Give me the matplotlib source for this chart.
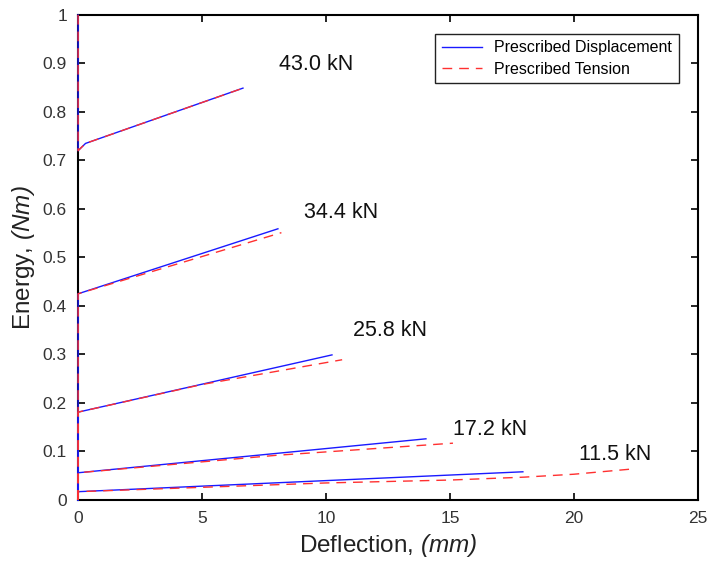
import matplotlib
matplotlib.use("Agg")
from matplotlib import pyplot as plt
from matplotlib.ticker import FuncFormatter

plt.rcParams['font.family'] = ['Liberation Sans', 'DejaVu Sans']
plt.rcParams['mathtext.fontset'] = 'custom'
plt.rcParams['mathtext.rm'] = 'Liberation Sans:italic'
plt.rcParams['mathtext.it'] = 'Liberation Sans:italic'

# Prescribed displacement (blue, solid)
disp_43_x = [0, 0, 0.3, 6.65]
disp_43_y = [1.0, 0.72, 0.735, 0.849]
disp_34_x = [0, 0, 8.06]
disp_34_y = [0.0, 0.425, 0.559]
disp_25_x = [0, 0, 10.24]
disp_25_y = [0.0, 0.181, 0.299]
disp_17_x = [0, 0, 14.03]
disp_17_y = [0.0, 0.056, 0.126]
disp_11_x = [0, 0, 17.94]
disp_11_y = [0.0, 0.017, 0.058]

# Prescribed tension (red, dashed)
tens_43_x = [0, 0, 0.3, 6.6]
tens_43_y = [1.0, 0.72, 0.735, 0.848]
tens_34_x = [0, 0, 8.2]
tens_34_y = [0.0, 0.425, 0.551]
tens_25_x = [0, 0, 5, 10.65]
tens_25_y = [0.0, 0.181, 0.238, 0.289]
tens_17_x = [0, 0, 8, 12, 15.12]
tens_17_y = [0.0, 0.056, 0.092, 0.106, 0.117]
tens_11_x = [0, 0, 10, 15, 18, 20, 22.4]
tens_11_y = [0.0, 0.017, 0.035, 0.041, 0.047, 0.053, 0.064]

load_labels = ["43.0 kN", "34.4 kN", "25.8 kN", "17.2 kN", "11.5 kN"]
label_x = [9.6, 10.6, 12.6, 16.6, 21.65]
label_y = [0.897, 0.592, 0.35, 0.146, 0.093]

fig = plt.figure(figsize=(7.1, 5.72), dpi=100)
ax = fig.add_axes([0.11, 0.126, 0.873, 0.848])

disp = [(disp_43_x, disp_43_y), (disp_34_x, disp_34_y), (disp_25_x, disp_25_y),
        (disp_17_x, disp_17_y), (disp_11_x, disp_11_y)]
tens = [(tens_43_x, tens_43_y), (tens_34_x, tens_34_y), (tens_25_x, tens_25_y),
        (tens_17_x, tens_17_y), (tens_11_x, tens_11_y)]

for i, (x, y) in enumerate(disp):
    ax.plot(x, y, color='#1a1aff', lw=1.0, zorder=3, clip_on=False,
            label='Prescribed Displacement' if i == 0 else None)
for i, (x, y) in enumerate(tens):
    ax.plot(x, y, color='#ff3030', lw=1.0, ls=(0, (7, 5)), zorder=3, clip_on=False,
            label='Prescribed Tension' if i == 0 else None)

for txt, tx, ty in zip(load_labels, label_x, label_y):
    ax.text(tx, ty, txt, fontsize=15.5, ha='center', va='center', color='#111111')

ax.set_xlim(0, 25)
ax.set_ylim(0, 1)
ax.set_xticks(range(0, 26, 5))
ax.set_yticks([i / 10 for i in range(11)])
ax.yaxis.set_major_formatter(FuncFormatter(lambda v, p: f"{v:g}"))
ax.tick_params(direction='in', top=True, right=True, labelsize=12.5,
               labelcolor='#333333', length=5, width=1.2, pad=8)
for s in ax.spines.values():
    s.set_linewidth(1.5)

ax.set_xlabel('Deflection, $(mm)$', fontsize=17.5, color='#222222', labelpad=4)
ax.set_ylabel('Energy, $(Nm)$', fontsize=17.5, color='#222222', labelpad=4)

leg = ax.legend(loc='upper right', fontsize=11.5, fancybox=False, framealpha=1,
                edgecolor='#222222', handlelength=2.5, borderaxespad=1.2,
                borderpad=0.4, labelspacing=0.4)
leg.get_frame().set_linewidth(1.0)

fig.savefig('out.png', dpi=100)
